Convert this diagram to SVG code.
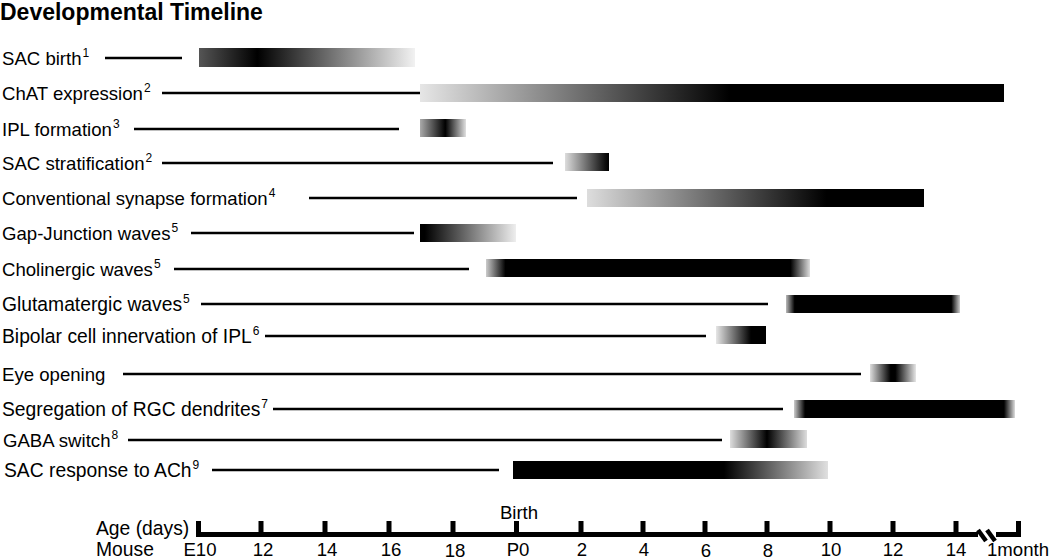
<svg xmlns="http://www.w3.org/2000/svg" width="1050" height="559" viewBox="0 0 1050 559">
<style>
text{font-family:"Liberation Sans",Arial,sans-serif;fill:#000}
.lbl{font-size:18.6px}
.big{font-size:19.3px}
.sup{font-size:12px}
.title{font-size:23px;font-weight:bold}
.lead{stroke:#000;stroke-width:2.5;fill:none}
.tick{fill:#000}
.ax{font-size:18.6px;text-anchor:middle}
</style>
<defs>
<linearGradient id="g1"><stop offset="0" stop-color="#555"/><stop offset="0.27" stop-color="#000"/><stop offset="1" stop-color="#f2f2f2"/></linearGradient>
<linearGradient id="g2"><stop offset="0" stop-color="#e6e6e6"/><stop offset="0.53" stop-color="#000"/><stop offset="1" stop-color="#000"/></linearGradient>
<linearGradient id="g3"><stop offset="0" stop-color="#aaa"/><stop offset="0.55" stop-color="#000"/><stop offset="1" stop-color="#e0e0e0"/></linearGradient>
<linearGradient id="g4"><stop offset="0" stop-color="#ddd"/><stop offset="0.9" stop-color="#111"/><stop offset="1" stop-color="#000"/></linearGradient>
<linearGradient id="g5"><stop offset="0" stop-color="#ddd"/><stop offset="0.71" stop-color="#000"/><stop offset="1" stop-color="#000"/></linearGradient>
<linearGradient id="g6"><stop offset="0" stop-color="#000"/><stop offset="0.05" stop-color="#000"/><stop offset="1" stop-color="#eee"/></linearGradient>
<linearGradient id="g7"><stop offset="0" stop-color="#ccc"/><stop offset="0.06" stop-color="#000"/><stop offset="0.94" stop-color="#000"/><stop offset="1" stop-color="#ddd"/></linearGradient>
<linearGradient id="g8"><stop offset="0" stop-color="#bbb"/><stop offset="0.05" stop-color="#000"/><stop offset="0.95" stop-color="#000"/><stop offset="1" stop-color="#ccc"/></linearGradient>
<linearGradient id="g9"><stop offset="0" stop-color="#e6e6e6"/><stop offset="0.7" stop-color="#000"/><stop offset="1" stop-color="#000"/></linearGradient>
<linearGradient id="g10"><stop offset="0" stop-color="#ddd"/><stop offset="0.45" stop-color="#000"/><stop offset="0.55" stop-color="#000"/><stop offset="1" stop-color="#e6e6e6"/></linearGradient>
<linearGradient id="g11"><stop offset="0" stop-color="#ccc"/><stop offset="0.05" stop-color="#000"/><stop offset="0.95" stop-color="#000"/><stop offset="1" stop-color="#ddd"/></linearGradient>
<linearGradient id="g12"><stop offset="0" stop-color="#ddd"/><stop offset="0.48" stop-color="#000"/><stop offset="1" stop-color="#ddd"/></linearGradient>
<linearGradient id="g13"><stop offset="0" stop-color="#000"/><stop offset="0.67" stop-color="#000"/><stop offset="1" stop-color="#e0e0e0"/></linearGradient>
</defs>
<rect width="1050" height="559" fill="#fff"/>
<text class="title" x="0" y="20">Developmental Timeline</text>

<g id="connectors">
<line class="lead" x1="105" y1="58" x2="182" y2="58"/>
<line class="lead" x1="162" y1="93" x2="420" y2="93"/>
<line class="lead" x1="134" y1="129" x2="399" y2="129"/>
<line class="lead" x1="162" y1="163" x2="553" y2="163"/>
<line class="lead" x1="309" y1="198" x2="577" y2="198"/>
<line class="lead" x1="191" y1="233" x2="414" y2="233"/>
<line class="lead" x1="174" y1="269" x2="469" y2="269"/>
<line class="lead" x1="201" y1="304" x2="768" y2="304"/>
<line class="lead" x1="265" y1="336" x2="706" y2="336"/>
<line class="lead" x1="123" y1="374" x2="861" y2="374"/>
<line class="lead" x1="273" y1="409" x2="783" y2="409"/>
<line class="lead" x1="128" y1="440" x2="722" y2="440"/>
<line class="lead" x1="212" y1="470" x2="499" y2="470"/>
</g>

<g id="sac-birth"><text class="lbl" x="2" y="64.5">SAC birth<tspan class="sup" dx="1" dy="-8">1</tspan></text><rect x="199" y="48" width="216" height="19" fill="url(#g1)"/></g>
<g id="chat-expression"><text class="lbl" x="2" y="99.5">ChAT expression<tspan class="sup" dx="1" dy="-8">2</tspan></text><rect x="420" y="84" width="584" height="18" fill="url(#g2)"/></g>
<g id="ipl-formation"><text class="lbl" x="2" y="135.5">IPL formation<tspan class="sup" dx="1" dy="-8">3</tspan></text><rect x="420" y="119" width="46" height="18" fill="url(#g3)"/></g>
<g id="sac-stratification"><text class="lbl" x="2" y="169.5">SAC stratification<tspan class="sup" dx="1" dy="-8">2</tspan></text><rect x="565" y="153" width="44" height="18" fill="url(#g4)"/></g>
<g id="conventional-synapse"><text class="lbl" x="2" y="204.5">Conventional synapse formation<tspan class="sup" dx="1" dy="-8">4</tspan></text><rect x="587" y="189" width="337" height="18" fill="url(#g5)"/></g>
<g id="gap-junction-waves"><text class="lbl" x="2" y="239.5">Gap-Junction waves<tspan class="sup" dx="1" dy="-8">5</tspan></text><rect x="420" y="224" width="96" height="18" fill="url(#g6)"/></g>
<g id="cholinergic-waves"><text class="lbl" x="2" y="275.5">Cholinergic waves<tspan class="sup" dx="1" dy="-8">5</tspan></text><rect x="486" y="259" width="324" height="18" fill="url(#g7)"/></g>
<g id="glutamatergic-waves"><text class="big" x="2" y="310.5">Glutamatergic waves<tspan class="sup" dx="1" dy="-8">5</tspan></text><rect x="786" y="295" width="174" height="18" fill="url(#g8)"/></g>
<g id="bipolar-innervation"><text class="big" x="2" y="342.5">Bipolar cell innervation of IPL<tspan class="sup" dx="1" dy="-8">6</tspan></text><rect x="716" y="326" width="50" height="18" fill="url(#g9)"/></g>
<g id="eye-opening"><text class="lbl" x="2" y="380.5">Eye opening</text><rect x="870" y="364" width="46" height="18" fill="url(#g10)"/></g>
<g id="rgc-segregation"><text class="big" x="2" y="415.5">Segregation of RGC dendrites<tspan class="sup" dx="1" dy="-8">7</tspan></text><rect x="794" y="400" width="221" height="18" fill="url(#g11)"/></g>
<g id="gaba-switch"><text class="lbl" x="3" y="446.5">GABA switch<tspan class="sup" dx="1" dy="-8">8</tspan></text><rect x="730" y="430" width="77" height="18" fill="url(#g12)"/></g>
<g id="sac-ach"><text class="big" x="4" y="476.5">SAC response to ACh<tspan class="sup" dx="1" dy="-8">9</tspan></text><rect x="513" y="461" width="315" height="18" fill="url(#g13)"/></g>

<g id="axis">
<text class="big" x="96" y="535">Age (days)</text>
<text class="big" x="96" y="556">Mouse</text>
<text class="ax" x="519" y="519">Birth</text>
<rect class="tick" x="196" y="532" width="782" height="5"/>
<rect class="tick" x="996" y="532" width="25" height="5"/>
<line x1="978" y1="530" x2="986" y2="541" stroke="#000" stroke-width="4.5"/>
<line x1="987" y1="530" x2="995" y2="541" stroke="#000" stroke-width="4.5"/>
<rect class="tick" x="196" y="521" width="5" height="16"/>
<rect class="tick" x="258.5" y="521" width="5" height="13"/>
<rect class="tick" x="322.5" y="521" width="5" height="13"/>
<rect class="tick" x="386.5" y="521" width="5" height="13"/>
<rect class="tick" x="450.5" y="521" width="5" height="13"/>
<rect class="tick" x="514" y="521" width="5" height="13"/>
<rect class="tick" x="578.5" y="521" width="5" height="13"/>
<rect class="tick" x="640.5" y="521" width="5" height="13"/>
<rect class="tick" x="702.5" y="521" width="5" height="13"/>
<rect class="tick" x="764.5" y="521" width="5" height="13"/>
<rect class="tick" x="827.5" y="521" width="5" height="13"/>
<rect class="tick" x="890.5" y="521" width="5" height="13"/>
<rect class="tick" x="953.5" y="521" width="5" height="13"/>
<rect class="tick" x="1016" y="521" width="5" height="16"/>
<text class="ax" x="200" y="556">E10</text>
<text class="ax" x="263" y="556">12</text>
<text class="ax" x="327" y="556">14</text>
<text class="ax" x="391" y="556">16</text>
<text class="ax" x="455" y="557">18</text>
<text class="ax" x="518" y="556">P0</text>
<text class="ax" x="582" y="556">2</text>
<text class="ax" x="644" y="556">4</text>
<text class="ax" x="706" y="557">6</text>
<text class="ax" x="768" y="557">8</text>
<text class="ax" x="831" y="556">10</text>
<text class="ax" x="893" y="556">12</text>
<text class="ax" x="956" y="556">14</text>
<text class="lbl" x="987" y="556">1month</text>
</g>
</svg>
